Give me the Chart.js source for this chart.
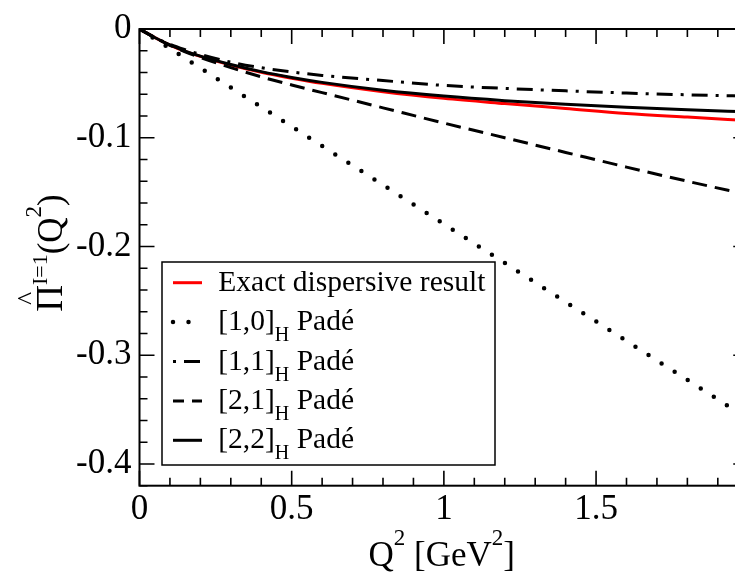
<!DOCTYPE html>
<html>
<head>
<meta charset="utf-8">
<script src="https://cdn.jsdelivr.net/npm/chart.js@4.4.0/dist/chart.umd.min.js"></script>
<style>
  html, body { margin: 0; padding: 0; background: #fff; overflow: hidden; }
  #wrap { position: relative; width: 760px; height: 577px; }
</style>
</head>
<body>
<div id="wrap"><canvas id="chart"></canvas></div>
<script>
/* ── data (Q² in GeV², Π̂ values) ── */
const Q2       = [0, 0.05, 0.1, 0.15, 0.2, 0.3, 0.4, 0.5, 0.6, 0.8, 1.0, 1.2, 1.4, 1.6, 1.8, 2.0];
const EXACT    = [0, -0.0078, -0.0148, -0.0205, -0.0252, -0.0332, -0.0398, -0.0452, -0.0500, -0.0577, -0.0638, -0.0686, -0.0731, -0.0776, -0.0810, -0.0842];
const PADE_10  = [0, -0.0090, -0.0179, -0.0269, -0.0359, -0.0538, -0.0717, -0.0897, -0.1076, -0.1434, -0.1793, -0.2152, -0.2510, -0.2869, -0.3227, -0.3586];
const PADE_11  = [0, -0.0077, -0.0140, -0.0190, -0.0234, -0.0305, -0.0356, -0.0395, -0.0427, -0.0474, -0.0519, -0.0546, -0.0569, -0.0589, -0.0605, -0.0618];
const PADE_21  = [0, -0.0080, -0.0150, -0.0210, -0.0262, -0.0355, -0.0440, -0.0515, -0.0585, -0.0725, -0.0865, -0.1000, -0.1135, -0.1270, -0.1400, -0.1525];
const PADE_22  = [0, -0.0078, -0.0147, -0.0203, -0.0249, -0.0326, -0.0392, -0.0446, -0.0491, -0.0563, -0.0617, -0.0659, -0.0693, -0.0720, -0.0743, -0.0762];

const X_TICKS = [0, 0.5, 1, 1.5, 2];
const Y_TICKS = [0, -0.1, -0.2, -0.3, -0.4];
const LABELS  = ['Exact dispersive result', '[1,0]|H| Padé', '[1,1]|H| Padé', '[2,1]|H| Padé', '[2,2]|H| Padé'];

const SERIF = '"Liberation Serif", "Times New Roman", serif';
const pts = ys => Q2.map((x, i) => ({ x, y: ys[i] }));
const line = (label, ys, extra) => Object.assign({
  label, data: pts(ys), borderColor: '#000', borderWidth: 3, pointRadius: 0,
  fill: false, cubicInterpolationMode: 'monotone'
}, extra);

// draws a run of text pieces (with super/subscripts) centred at x, baseline y
function drawRuns(ctx, runs, cx, by) {
  let total = 0;
  runs.forEach(r => { ctx.font = `${r.size}px ${SERIF}`; r.w = ctx.measureText(r.t).width; total += r.w; });
  let x = cx - total / 2;
  runs.forEach(r => {
    ctx.font = `${r.size}px ${SERIF}`;
    ctx.fillText(r.t, x, by + (r.dy || 0));
    r.x = x;
    x += r.w;
  });
  return runs;
}

const framePlugin = {
  id: 'frame',
  afterDraw(chart) {
    const { ctx, chartArea: a, scales: { x, y } } = chart;
    ctx.save();
    ctx.strokeStyle = '#000';
    ctx.fillStyle = '#000';

    // frame
    ctx.lineWidth = 2;
    ctx.strokeRect(a.left, a.top, a.right - a.left, a.bottom - a.top);

    // inward ticks, major + minor, on all four sides
    ctx.lineWidth = 1.6;
    ctx.beginPath();
    for (let i = 0; i <= 20; i++) {
      const px = x.getPixelForValue(i / 10);
      const len = i % 5 === 0 ? 15 : 8;
      ctx.moveTo(px, a.bottom); ctx.lineTo(px, a.bottom - len);
      ctx.moveTo(px, a.top);    ctx.lineTo(px, a.top + len);
    }
    for (let i = 0; i <= 21; i++) {
      const py = y.getPixelForValue(-i / 50);
      const len = i % 5 === 0 ? 15 : 8;
      ctx.moveTo(a.left, py);  ctx.lineTo(a.left + len, py);
      ctx.moveTo(a.right, py); ctx.lineTo(a.right - len, py);
    }
    ctx.stroke();

    // axis titles
    ctx.textAlign = 'left';
    ctx.textBaseline = 'alphabetic';
    drawRuns(ctx, [
      { t: 'Q', size: 35 }, { t: '2', size: 23, dy: -21 },
      { t: ' [GeV', size: 35 }, { t: '2', size: 23, dy: -21 }, { t: ']', size: 35 }
    ], 441.7, 566);

    ctx.save();
    ctx.translate(62, 253);
    ctx.rotate(-Math.PI / 2);
    const r = drawRuns(ctx, [
      { t: 'Π', size: 37 }, { t: 'I=1', size: 22, dy: -15 },
      { t: '(Q', size: 35 }, { t: '2', size: 23, dy: -21 }, { t: ')', size: 35 }
    ], 0, 0);
    ctx.font = `28px ${SERIF}`;
    ctx.textAlign = 'center';
    ctx.fillText('^', r[0].x + r[0].w / 2, -26);
    ctx.restore();

    // legend box
    const L = { l: 162, t: 262, r: 495, b: 465 };
    const DASH_OFFSET = [0, 0, 24, 4, 0];
    ctx.fillStyle = '#fff';
    ctx.fillRect(L.l, L.t, L.r - L.l, L.b - L.t);
    ctx.lineWidth = 1.5;
    ctx.strokeStyle = '#000';
    ctx.strokeRect(L.l, L.t, L.r - L.l, L.b - L.t);
    ctx.fillStyle = '#000';
    ctx.textAlign = 'left';
    chart.data.datasets.forEach((ds, k) => {
      const base = 290.7 + k * 39.4;
      const ly = base - 8;
      ctx.save();
      ctx.strokeStyle = ds.borderColor;
      ctx.lineWidth = ds.borderWidth;
      ctx.lineCap = ds.borderCapStyle || 'butt';
      ctx.setLineDash(ds.borderDash || []);
      ctx.lineDashOffset = DASH_OFFSET[k];
      ctx.beginPath();
      ctx.moveTo(173, ly); ctx.lineTo(202, ly);
      ctx.stroke();
      ctx.restore();
      const parts = LABELS[k].split('|');
      let tx = 218.3;
      parts.forEach((p, j) => {
        const sub = j === 1;
        ctx.font = `${sub ? 20 : 29.5}px ${SERIF}`;
        ctx.fillText(p, tx, base + (sub ? 11 : 0));
        tx += ctx.measureText(p).width;
      });
    });
    ctx.restore();
  }
};

new Chart(document.getElementById('chart'), {
  type: 'line',
  data: {
    datasets: [
      line(LABELS[0], EXACT,   { borderColor: '#ff0000', order: 5 }),
      line(LABELS[1], PADE_10, { borderWidth: 4.5, borderDash: [0, 15.5], borderCapStyle: 'round', order: 4 }),
      line(LABELS[2], PADE_11, { borderDash: [16, 8, 3, 8], order: 3 }),
      line(LABELS[3], PADE_21, { borderDash: [15, 8], order: 2 }),
      line(LABELS[4], PADE_22, { order: 1 })
    ]
  },
  options: {
    responsive: true,
    maintainAspectRatio: false,
    animation: false,
    layout: { padding: { top: 23.3, right: 9.7, left: 0, bottom: 0 } },
    plugins: { legend: { display: false }, tooltip: { enabled: false } },
    scales: {
      x: {
        type: 'linear', min: 0, max: 2,
        afterFit: s => { s.height = 91.3; },
        afterBuildTicks: s => { s.ticks = X_TICKS.map(v => ({ value: v })); },
        grid: { display: false, drawTicks: false },
        border: { display: false },
        ticks: { font: { family: SERIF, size: 35 }, color: '#000', padding: 3, maxRotation: 0, autoSkip: false, callback: v => String(v) }
      },
      y: {
        type: 'linear', min: -0.42, max: 0,
        afterFit: s => { s.width = 139.5; },
        afterBuildTicks: s => { s.ticks = Y_TICKS.map(v => ({ value: v })); },
        grid: { display: false, drawTicks: false },
        border: { display: false },
        ticks: { font: { family: SERIF, size: 35 }, color: '#000', padding: 8, autoSkip: false, callback: v => String(v) }
      }
    }
  },
  plugins: [framePlugin]
});
</script>
</body>
</html>
